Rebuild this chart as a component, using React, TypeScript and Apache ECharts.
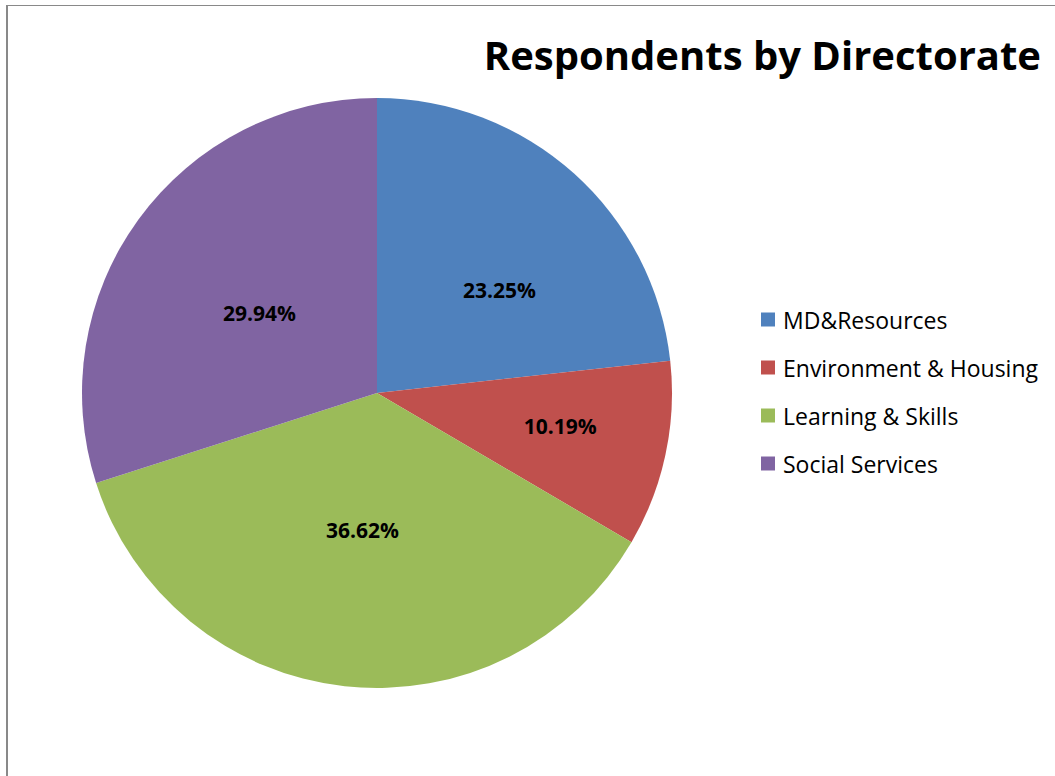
import React, { useEffect, useRef } from "react";
import * as echarts from "echarts";

const categories = ["MD&Resources", "Environment & Housing", "Learning & Skills", "Social Services"];
const values = [23.25, 10.19, 36.62, 29.94];
const colors = ["#4F81BD", "#C0504D", "#9BBB59", "#8064A2"];
const titleText = "Respondents by Directorate";

export default function App() {
  const ref = useRef<HTMLDivElement>(null);
  useEffect(() => {
    if (!ref.current) return;
    const chart = echarts.init(ref.current, undefined, { renderer: "svg" });
    const labelShift = [
      [22, 9],
      [36, 2],
      [2, -13],
      [4, 9],
    ];
    chart.setOption({
      animation: false,
      backgroundColor: "#ffffff",
      title: {
        text: titleText,
        right: 9,
        top: 29,
        textStyle: { fontFamily: "Open Sans", fontWeight: "bold", fontSize: 40, color: "#000" },
      },
      legend: {
        orient: "vertical",
        left: 756,
        top: 303,
        itemWidth: 14,
        itemHeight: 14,
        itemGap: 25,
        icon: "rect",
        data: categories,
        textStyle: { fontFamily: "Open Sans", fontSize: 23, color: "#000", padding: [0, 0, 0, 3] },
      },
      series: [
        {
          type: "pie",
          center: [377, 393],
          radius: 295,
          startAngle: 90,
          clockwise: true,
          data: categories.map((name, i) => ({
            name,
            value: values[i],
            itemStyle: { color: colors[i] },
            label: { offset: labelShift[i] },
          })),
          itemStyle: { borderWidth: 0 },
          label: {
            show: true,
            position: "inside",
            formatter: (p: any) => p.value.toFixed(2) + "%",
            fontFamily: "Open Sans",
            fontWeight: "bold",
            fontSize: 21,
            color: "#000",
          },
          labelLine: { show: false },
          emphasis: { disabled: true },
        },
      ],
    });
    return () => chart.dispose();
  }, []);
  return (
    <div style={{ position: "fixed", left: 0, top: 0, width: 1055, height: 776, background: "#fff" }}>
      <div ref={ref} style={{ position: "absolute", left: 0, top: 0, width: 1055, height: 776 }} />
      <div
        style={{
          position: "absolute",
          left: 6,
          top: 5,
          width: 1100,
          height: 800,
          borderLeft: "2px solid #898989",
          borderTop: "1px solid #898989",
          pointerEvents: "none",
        }}
      />
    </div>
  );
}
